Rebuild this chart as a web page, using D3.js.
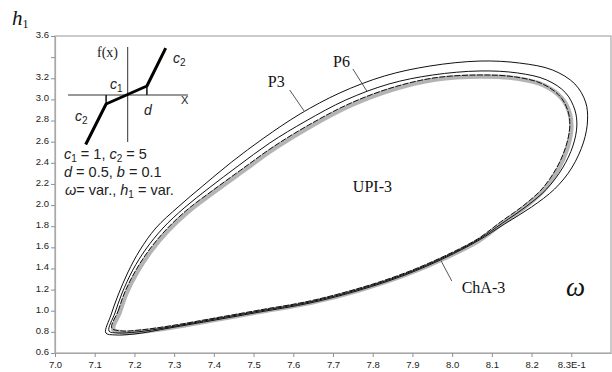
<!DOCTYPE html>
<html>
<head>
<meta charset="utf-8">
<script src="https://cdn.jsdelivr.net/npm/d3@7"></script>
<style>
  body { margin: 0; background: #fff; }
  svg { display: block; }
</style>
</head>
<body>
<div id="chart"></div>
<script>
// Axis ticks
const xTicks = [7.0, 7.1, 7.2, 7.3, 7.4, 7.5, 7.6, 7.7, 7.8, 7.9, 8.0, 8.1, 8.2, 8.3];
const xTickLabels = ["7.0", "7.1", "7.2", "7.3", "7.4", "7.5", "7.6", "7.7", "7.8", "7.9", "8.0", "8.1", "8.2", "8.3E-1"];
const yTicks = [0.6, 0.8, 1.0, 1.2, 1.4, 1.6, 1.8, 2.0, 2.2, 2.4, 2.6, 2.8, 3.0, 3.2, 3.4, 3.6];
const yTickLabels = ["0.6", "0.8", "1.0", "1.2", "1.4", "1.6", "1.8", "2.0", "2.2", "2.4", "2.6", "2.8", "3.0", "3.2", "", "3.6"];

// Closed curves, [omega, h1]
const p3 = [[7.128, 0.790], [7.141, 0.960], [7.159, 1.149], [7.184, 1.367], [7.214, 1.575], [7.254, 1.783],
  [7.310, 1.982], [7.372, 2.181], [7.445, 2.408], [7.526, 2.635], [7.617, 2.862], [7.717, 3.061],
  [7.830, 3.222], [7.944, 3.316], [8.070, 3.363], [8.170, 3.344], [8.253, 3.278], [8.309, 3.146],
  [8.336, 2.975], [8.341, 2.805], [8.331, 2.597], [8.301, 2.351], [8.258, 2.152], [8.200, 1.982],
  [8.132, 1.821], [8.064, 1.660], [7.981, 1.499], [7.881, 1.338], [7.768, 1.196], [7.642, 1.073],
  [7.516, 0.988], [7.403, 0.912], [7.289, 0.837], [7.201, 0.780], [7.151, 0.771]];
const p6 = [[7.136, 0.808], [7.151, 0.979], [7.169, 1.168], [7.196, 1.386], [7.229, 1.584], [7.272, 1.783],
  [7.325, 1.972], [7.388, 2.162], [7.461, 2.370], [7.541, 2.588], [7.632, 2.796], [7.732, 2.994],
  [7.841, 3.146], [7.951, 3.231], [8.070, 3.269], [8.165, 3.250], [8.238, 3.184], [8.286, 3.061],
  [8.309, 2.900], [8.314, 2.748], [8.304, 2.559], [8.278, 2.351], [8.238, 2.152], [8.188, 1.991],
  [8.127, 1.830], [8.064, 1.670], [7.981, 1.509], [7.881, 1.348], [7.768, 1.206], [7.642, 1.083],
  [7.516, 0.998], [7.403, 0.922], [7.289, 0.846], [7.206, 0.799], [7.159, 0.790]];
const cha3 = [[7.143, 0.837], [7.159, 0.998], [7.176, 1.178], [7.204, 1.386], [7.237, 1.575], [7.279, 1.764],
  [7.332, 1.953], [7.395, 2.133], [7.468, 2.332], [7.549, 2.550], [7.639, 2.758], [7.740, 2.957],
  [7.846, 3.108], [7.954, 3.203], [8.070, 3.231], [8.160, 3.212], [8.228, 3.146], [8.273, 3.023],
  [8.293, 2.871], [8.296, 2.729], [8.286, 2.550], [8.263, 2.351], [8.226, 2.152], [8.178, 1.991],
  [8.122, 1.840], [8.064, 1.679], [7.981, 1.518], [7.881, 1.357], [7.768, 1.215], [7.642, 1.092],
  [7.516, 1.007], [7.403, 0.931], [7.289, 0.856], [7.214, 0.818], [7.169, 0.808]];

// Curve labels with leader lines (data coords)
const curveLabels = ["P3", "P6", "UPI-3", "ChA-3"];
const labelPos = [[7.536, 3.117], [7.700, 3.307], [7.750, 2.124], [8.024, 1.168]];
const leaders = [
  [[7.591, 3.089], [7.629, 2.881]],
  [[7.750, 3.288], [7.785, 3.080]],
  null,
  [[7.971, 1.480], [7.999, 1.282]]
];

// Inset sketch of f(x): piecewise linear
const insetX = [-1.05, -0.54, 0.48, 0.95];
const insetF = [-2.75, -0.5, 0.5, 2.6];

const W = 612, H = 372;
const svg = d3.select("#chart").append("svg")
  .attr("width", W).attr("height", H)
  .style("font-family", "'Liberation Sans', Arial, sans-serif");

svg.append("rect").attr("width", W).attr("height", H).attr("fill", "#fff");

const x = d3.scaleLinear().domain([7.0, 8.4]).range([55, 611]);
const y = d3.scaleLinear().domain([0.6, 3.6]).range([353, 36]);

// frame
svg.append("rect")
  .attr("x", 55).attr("y", 36)
  .attr("width", x(8.4) - 55).attr("height", 353 - 36)
  .attr("fill", "none").attr("stroke", "#a8a8a8").attr("stroke-width", 1.2);

const xAxis = svg.append("g")
  .attr("transform", "translate(0,353)")
  .call(d3.axisBottom(x).tickValues(xTicks).tickSize(4).tickSizeOuter(0)
    .tickFormat((d, i) => xTickLabels[i]));
const yAxis = svg.append("g")
  .attr("transform", "translate(55,0)")
  .call(d3.axisLeft(y).tickValues(yTicks).tickSize(4).tickSizeOuter(0)
    .tickFormat((d, i) => yTickLabels[i]));

[xAxis, yAxis].forEach(g => {
  g.select(".domain").attr("stroke", "#a8a8a8").attr("stroke-width", 1.2);
  g.selectAll(".tick line").attr("stroke", "#909090");
  g.selectAll(".tick text").attr("fill", "#222").style("font-size", "9.5px");
});
xAxis.selectAll(".tick text").attr("dy", "0.85em");
yAxis.selectAll(".tick text").attr("x", -6).attr("dy", "0.15em");

// curves
const line = d3.line().x(d => x(d[0])).y(d => y(d[1])).curve(d3.curveCatmullRomClosed.alpha(0.5));

svg.append("path").attr("d", line(cha3))
  .attr("fill", "none").attr("stroke", "#b4b4b4").attr("stroke-width", 4.5)
  .attr("transform", "translate(1.5,1.5)");
svg.append("path").attr("d", line(cha3))
  .attr("fill", "none").attr("stroke", "#111").attr("stroke-width", 1)
  .attr("stroke-dasharray", "6,1.5");
svg.append("path").attr("d", line(p6))
  .attr("fill", "none").attr("stroke", "#111").attr("stroke-width", 1);
svg.append("path").attr("d", line(p3))
  .attr("fill", "none").attr("stroke", "#111").attr("stroke-width", 1);

// labels
curveLabels.forEach((t, i) => {
  if (leaders[i]) {
    svg.append("line")
      .attr("x1", x(leaders[i][0][0])).attr("y1", y(leaders[i][0][1]))
      .attr("x2", x(leaders[i][1][0])).attr("y2", y(leaders[i][1][1]))
      .attr("stroke", "#555").attr("stroke-width", 1);
  }
  svg.append("text")
    .attr("x", x(labelPos[i][0])).attr("y", y(labelPos[i][1]))
    .style("font-family", "'Liberation Serif', 'Times New Roman', serif")
    .style("font-size", "16px").attr("fill", "#111")
    .text(t);
});

// axis titles
const hT = svg.append("text").attr("x", 12).attr("y", 25)
  .style("font-family", "'Liberation Serif', 'Times New Roman', serif").attr("fill", "#111");
hT.append("tspan").style("font-style", "italic").style("font-size", "21px").text("h");
hT.append("tspan").style("font-size", "12px").attr("dy", 3).text("1");

svg.append("text").attr("x", 566).attr("y", 296)
  .style("font-family", "'Liberation Serif', 'Times New Roman', serif")
  .style("font-style", "italic").style("font-size", "27px").attr("fill", "#111")
  .text("ω");

// inset
const ix = d3.scaleLinear().domain([-1, 1]).range([87.7, 167.7]);
const iy = d3.scaleLinear().domain([-1, 1]).range([113, 77]);
const inset = svg.append("g");
inset.append("line").attr("x1", 68).attr("x2", 188).attr("y1", iy(0)).attr("y2", iy(0))
  .attr("stroke", "#333").attr("stroke-width", 1);
inset.append("line").attr("x1", ix(0)).attr("x2", ix(0)).attr("y1", 47).attr("y2", 142)
  .attr("stroke", "#333").attr("stroke-width", 1);
[1, 2].forEach(i => {
  inset.append("line")
    .attr("x1", ix(insetX[i])).attr("x2", ix(insetX[i]))
    .attr("y1", iy(0)).attr("y2", iy(insetF[i]))
    .attr("stroke", "#111").attr("stroke-width", 1.5);
});
inset.append("path")
  .attr("d", d3.line().x((d, i) => ix(d)).y((d, i) => iy(insetF[i]))(insetX))
  .attr("fill", "none").attr("stroke", "#000").attr("stroke-width", 3)
  .attr("stroke-linejoin", "round");

inset.append("text").attr("x", 97).attr("y", 57)
  .style("font-family", "'Liberation Serif', serif").style("font-size", "14px").attr("fill", "#222")
  .text("f(x)");
inset.append("text").attr("x", 181).attr("y", 104)
  .style("font-size", "11px").attr("fill", "#222").text("X");

function cLabel(px, py, sub) {
  const t = inset.append("text").attr("x", px).attr("y", py).attr("fill", "#222").style("font-size", "14px");
  t.append("tspan").style("font-style", "italic").text("c");
  t.append("tspan").style("font-size", "10px").attr("dy", 3).text(sub);
}
cLabel(110, 89, "1");
cLabel(173, 63, "2");
cLabel(75, 121, "2");
inset.append("text").attr("x", 144).attr("y", 115)
  .style("font-style", "italic").style("font-size", "14px").attr("fill", "#222").text("d");

const tx = svg.append("g").attr("fill", "#222").style("font-size", "14.5px");
const l1 = tx.append("text").attr("x", 64).attr("y", 159);
l1.append("tspan").style("font-style", "italic").text("c");
l1.append("tspan").style("font-size", "10px").attr("dy", 3).text("1");
l1.append("tspan").attr("dy", -3).text(" = 1, ");
l1.append("tspan").style("font-style", "italic").text("c");
l1.append("tspan").style("font-size", "10px").attr("dy", 3).text("2");
l1.append("tspan").attr("dy", -3).text(" = 5");

const l2 = tx.append("text").attr("x", 64).attr("y", 177);
l2.append("tspan").style("font-style", "italic").text("d");
l2.append("tspan").text(" = 0.5, ");
l2.append("tspan").style("font-style", "italic").text("b");
l2.append("tspan").text(" = 0.1");

const l3 = tx.append("text").attr("x", 65).attr("y", 195);
l3.append("tspan").style("font-style", "italic").text("ω");
l3.append("tspan").text("= var., ");
l3.append("tspan").style("font-style", "italic").text("h");
l3.append("tspan").style("font-size", "10px").attr("dy", 3).text("1");
l3.append("tspan").attr("dy", -3).text(" = var.");
</script>
</body>
</html>
